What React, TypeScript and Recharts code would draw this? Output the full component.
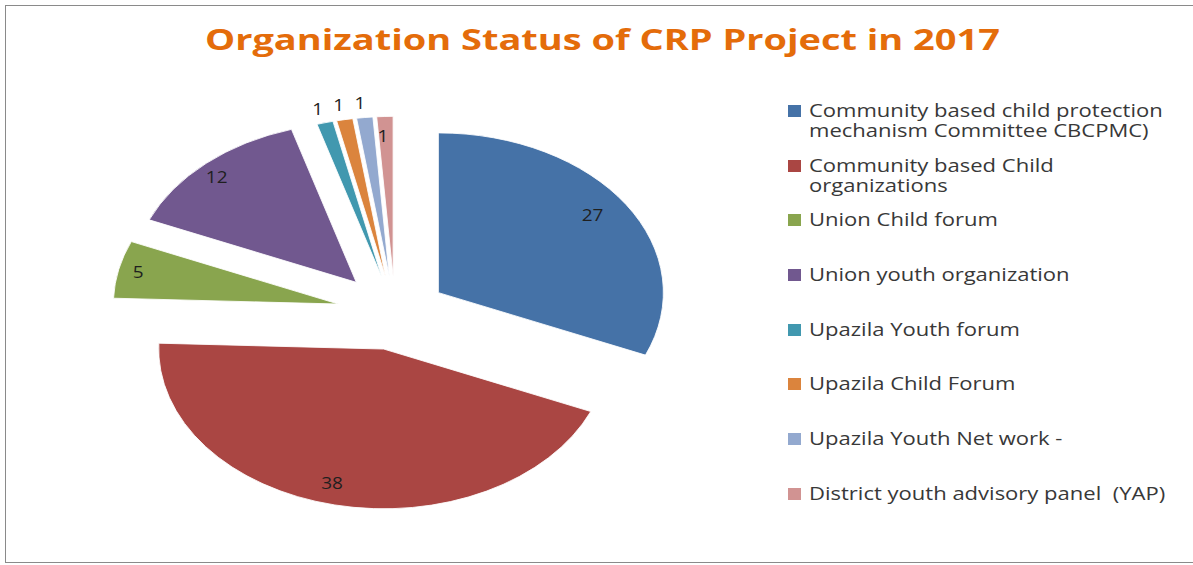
import { PieChart, Pie, Cell, Legend } from 'recharts'

const title = 'Organization Status of CRP Project in 2017'

const categories = [
  'Community based child protection mechanism Committee CBCPMC)',
  'Community based Child organizations',
  'Union Child forum',
  'Union youth organization',
  'Upazila Youth forum',
  'Upazila Child Forum',
  'Upazila Youth Net work -',
  'District youth advisory panel  (YAP)',
]
const counts = [27, 38, 5, 12, 1, 1, 1, 1]
const colors = ['#4572A7', '#AA4643', '#89A54E', '#71588F', '#4198AF', '#DB843D', '#93A9CF', '#D19392']

// the original is a tilted excel pie with every slice pulled out a bit
const CX = 395
const CY = 313
const R = 225
const TILT = 0.71
const explode = [52, 52, 58, 58, 52, 52, 52, 52]
const outsideLabels = [4, 5, 6]
// the source picture is stretched sideways, so text is widened to match
const TITLE_STRETCH = 1.355
const LEGEND_STRETCH = 1.19

const rows = categories.map((name, i) => ({ name, value: counts[i] }))

const total = counts.reduce((a, b) => a + b, 0)
let acc = 0
const offsets = counts.map((v, i) => {
  const mid = 90 - (360 * (acc + v / 2)) / total
  acc += v
  const rad = (mid * Math.PI) / 180
  return { dx: explode[i] * Math.cos(rad), dy: -explode[i] * Math.sin(rad) }
})

const sliceStyle = (i: number) => ({
  transform: `translate(0px, ${CY}px) scale(1, ${TILT}) translate(0px, ${-CY}px) translate(${offsets[i].dx}px, ${offsets[i].dy}px)`,
})

const renderLabel = (p: any) => {
  const { cx, cy, midAngle, outerRadius, index, value } = p
  const rad = (midAngle * Math.PI) / 180
  const outside = outsideLabels.includes(index)
  const big = index < 4
  const r = outside ? outerRadius + 17 : outerRadius * 0.87
  const x = cx + offsets[index].dx + r * Math.cos(rad) + (big ? -9 : -3)
  const yc = cy + offsets[index].dy - r * Math.sin(rad)
  const y = cy + (yc - cy) * TILT - (outside ? 3 : 2)
  return (
    <text
      x={x}
      y={y}
      textAnchor="middle"
      dominantBaseline="central"
      fill="#1f1f1f"
      fontSize={17}
      fontFamily="Open Sans"
      style={{ transform: `translate(${x}px, 0px) scale(1.12, 1) translate(${-x}px, 0px)` }}
    >
      {value}
    </text>
  )
}

const renderLegend = () => (
  <div style={{ fontFamily: 'Open Sans', color: '#383838' }}>
    {categories.map((c, i) => (
      <div key={c} style={{ position: 'relative', height: 54.67 }}>
        <span style={{ position: 'absolute', left: 0, top: 5, width: 13, height: 12, background: colors[i] }} />
        <div
          style={{
            marginLeft: 21,
            width: 312,
            fontSize: 18.5,
            lineHeight: '20px',
            whiteSpace: 'pre-wrap',
            transform: `scaleX(${LEGEND_STRETCH})`,
            transformOrigin: 'left top',
          }}
        >
          {c}
        </div>
      </div>
    ))}
  </div>
)

export default function App() {
  return (
    <div style={{ position: 'absolute', left: 0, top: 0, width: 1193, height: 565, overflow: 'hidden', background: '#fff' }}>
      <div style={{ position: 'absolute', left: 5, top: 5, width: 1200, height: 556, border: '1px solid #8a8a8a' }} />
      <div
        style={{
          position: 'absolute', left: 205, top: 25, whiteSpace: 'nowrap',
          fontFamily: 'Open Sans', fontWeight: 700, fontSize: 28, lineHeight: '28px', color: '#E46C0A',
          transform: `scaleX(${TITLE_STRETCH})`, transformOrigin: 'left top',
        }}
      >
        {title}
      </div>
      <PieChart width={1193} height={565} margin={{ top: 0, right: 0, bottom: 0, left: 0 }}>
        <Pie
          data={rows}
          dataKey="value"
          nameKey="name"
          cx={CX}
          cy={CY}
          outerRadius={R}
          startAngle={90}
          endAngle={-270}
          stroke="#fff"
          strokeWidth={1}
          label={renderLabel}
          labelLine={false}
          isAnimationActive={false}
        >
          {rows.map((r, i) => (
            <Cell key={r.name} fill={colors[i]} style={sliceStyle(i)} />
          ))}
        </Pie>
        <Legend
          layout="vertical"
          align="right"
          verticalAlign="top"
          content={renderLegend}
          wrapperStyle={{ left: 788, top: 100, width: 400 }}
        />
      </PieChart>
    </div>
  )
}
